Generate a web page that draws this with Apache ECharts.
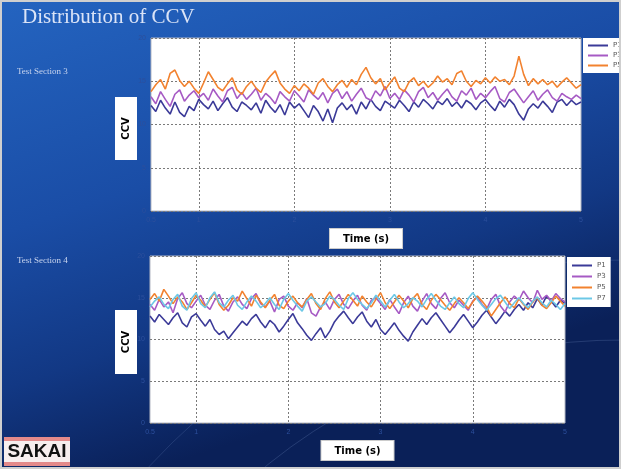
<!DOCTYPE html>
<html>
<head>
<meta charset="utf-8">
<script src="https://cdn.jsdelivr.net/npm/echarts@6/dist/echarts.min.js"></script>
<style>
html,body{margin:0;padding:0;background:#fff;}
#c{width:621px;height:469px;}
</style>
</head>
<body>
<div id="c"></div>
<script>
// ---- data ----
const times = ["0.50","0.55","0.60","0.65","0.70","0.75","0.80","0.85","0.90","0.95",
"1.00","1.05","1.10","1.15","1.20","1.25","1.30","1.35","1.40","1.45",
"1.50","1.55","1.60","1.65","1.70","1.75","1.80","1.85","1.90","1.95",
"2.00","2.05","2.10","2.15","2.20","2.25","2.30","2.35","2.40","2.45",
"2.50","2.55","2.60","2.65","2.70","2.75","2.80","2.85","2.90","2.95",
"3.00","3.05","3.10","3.15","3.20","3.25","3.30","3.35","3.40","3.45",
"3.50","3.55","3.60","3.65","3.70","3.75","3.80","3.85","3.90","3.95",
"4.00","4.05","4.10","4.15","4.20","4.25","4.30","4.35","4.40","4.45",
"4.50","4.55","4.60","4.65","4.70","4.75","4.80","4.85","4.90","4.95","5.00"];

const yTicks = [0, 5, 10, 15, 20];
const xTickTimes = ["0.50","1.00","2.00","3.00","4.00","5.00"];

// Test Section 3
const s3_P1 = [12.2,11.5,12.8,11.9,11.2,12.6,11.4,10.9,12.1,11.6,12.9,
12.3,11.8,12.7,11.6,12.4,13.1,12.0,11.5,12.6,12.2,
11.7,12.5,11.3,12.8,12.0,11.4,12.3,11.1,12.6,11.9,
12.4,11.6,10.8,12.2,11.5,10.4,11.8,10.2,11.9,12.5,
11.7,12.3,11.2,12.6,11.8,12.9,12.1,11.6,12.7,12.3,
11.9,12.8,12.2,11.5,12.6,12.0,12.9,12.4,11.8,12.7,
12.3,13.0,12.1,12.6,11.9,12.8,12.4,11.7,12.5,12.9,
12.2,11.6,12.7,12.0,12.9,12.3,11.2,10.5,11.8,12.4,
11.9,12.7,12.1,11.4,12.6,12.9,12.2,12.8,12.3,12.6];
const s3_P3 = [13.2,12.4,13.8,12.9,12.1,13.5,14.0,12.7,13.4,13.9,13.1,
13.6,12.8,14.1,13.3,12.6,13.9,14.3,13.0,13.7,12.9,
13.5,14.2,12.8,13.6,13.1,12.4,13.8,13.2,12.7,13.9,
13.3,12.6,14.0,13.4,12.9,13.7,12.5,13.6,14.1,13.0,
13.8,12.7,13.5,14.2,13.1,12.8,13.9,13.3,14.4,13.0,
13.6,12.9,14.0,13.4,12.6,13.8,14.3,13.1,13.7,12.8,
13.5,14.1,13.2,12.7,13.9,13.4,14.2,12.9,13.6,13.1,
13.8,14.4,13.0,12.6,13.7,14.1,13.3,12.5,13.2,13.9,
12.8,13.5,14.0,13.1,12.7,13.6,13.2,12.9,13.4,13.0];
const s3_P5 = [13.8,14.6,15.2,14.1,15.9,16.3,15.1,14.4,15.0,14.2,13.6,
14.8,16.1,15.2,14.3,13.9,14.7,15.4,14.0,13.5,14.4,
15.0,14.2,13.7,14.9,15.6,16.2,14.8,14.1,13.6,14.5,
13.9,14.7,14.2,13.5,14.8,15.3,14.4,13.8,14.6,15.1,
14.3,15.2,14.6,15.8,16.6,15.4,14.7,15.3,14.0,14.8,
15.5,14.2,13.8,14.9,15.4,14.5,15.0,14.3,14.8,15.6,
14.9,15.3,14.6,15.9,16.2,15.0,14.4,15.1,14.7,15.4,
14.8,15.5,15.0,15.2,14.6,15.6,17.9,15.8,14.5,15.3,
14.7,15.2,14.6,15.0,14.3,14.9,15.4,14.8,14.2,14.6];

// Test Section 4
const s4_P1 = [12.8,12.1,13.0,12.4,11.8,12.6,13.2,12.0,11.5,12.7,13.1,
12.3,11.6,12.4,11.2,10.6,11.0,10.1,10.8,11.5,12.2,
11.7,12.5,13.0,12.1,11.4,12.3,11.8,10.9,11.6,12.4,
13.1,12.0,11.3,10.5,9.9,10.7,11.4,10.2,11.0,12.1,
12.8,13.4,12.6,11.9,12.7,13.3,12.2,11.5,12.4,11.2,
10.6,11.3,12.0,11.1,10.4,9.8,10.9,11.7,12.5,11.8,
12.6,13.2,12.4,11.6,10.8,11.5,12.3,13.0,12.2,11.4,
12.1,12.9,13.5,12.7,11.9,12.6,13.4,12.8,13.6,14.2,
13.5,14.4,13.8,14.9,14.1,15.2,14.6,13.9,14.7,14.3];
const s4_P3 = [14.2,13.5,14.8,13.9,14.5,13.2,14.9,15.6,14.3,13.8,14.6,
15.3,14.1,13.6,14.7,15.4,14.0,13.4,14.5,15.1,14.2,
13.7,14.9,15.5,14.3,13.9,14.6,13.3,14.8,15.2,14.0,
13.5,14.4,13.8,14.9,13.2,12.8,13.9,14.5,13.6,14.8,
15.4,14.2,13.7,14.6,15.3,14.1,13.5,14.7,15.0,14.3,
13.6,14.8,13.9,13.1,14.4,15.2,14.0,13.4,14.6,15.5,
14.3,13.7,14.9,15.6,14.4,13.8,14.7,14.1,13.5,14.6,
15.1,14.2,13.6,14.8,15.4,14.0,13.3,14.5,15.2,14.7,
15.8,15.0,14.4,15.9,14.8,15.3,14.6,15.5,14.9,14.5];
const s4_P5 = [14.8,15.5,14.6,16.0,15.2,14.3,15.1,14.5,13.6,14.4,15.3,
14.7,13.9,14.8,15.6,14.2,13.5,14.1,15.0,14.6,15.8,
14.9,14.0,15.3,14.5,13.8,14.7,15.4,14.1,13.7,14.6,
15.2,14.4,13.9,14.8,15.5,14.3,13.6,14.9,15.7,14.5,
13.8,14.6,15.4,14.7,14.0,15.2,14.5,13.9,14.8,15.6,
14.4,13.7,14.5,15.3,14.6,13.8,14.9,15.5,14.2,13.6,
14.7,15.4,14.8,14.1,13.5,14.3,15.0,14.4,13.7,14.5,
15.2,14.6,13.9,12.8,13.6,14.4,15.1,14.3,13.8,14.9,
14.2,13.6,14.5,15.0,14.1,13.7,14.4,15.2,14.6,14.0];
const s4_P7 = [13.9,14.6,15.1,14.2,13.7,14.8,15.4,14.0,13.5,14.9,15.6,
14.3,13.8,15.0,15.7,14.4,13.9,14.7,15.3,14.1,13.6,
14.5,15.2,14.6,13.8,14.3,15.0,14.2,13.6,14.8,15.5,
14.7,14.0,13.4,14.6,15.1,14.5,13.9,14.3,15.2,14.8,
14.1,13.6,14.9,15.6,14.8,14.2,13.7,14.4,15.3,14.6,
13.9,14.7,15.4,14.5,13.8,14.3,15.0,14.6,13.9,14.8,
15.5,14.7,14.0,13.6,14.4,15.1,14.3,13.8,14.9,15.6,
14.8,14.1,13.5,14.2,14.9,15.3,14.5,13.7,14.4,15.0,
14.3,13.8,14.6,15.1,14.4,13.9,14.7,14.2,13.6,14.3];

const legend3 = ["P1","P3","P5"];
const legend4 = ["P1","P3","P5","P7"];

// ---- styles ----
const colors = {P1:"#3b3a98", P3:"#a65ac4", P5:"#f2822f", P7:"#6cc8e6"};
const tickLabelColor = "#2c4f9c";

function xAxisCfg(gridIndex){
  return {
    type:"category", gridIndex, data:times, boundaryGap:false,
    axisLine:{show:false}, axisTick:{show:false},
    axisLabel:{
      color:tickLabelColor, fontSize:7, margin:6,
      interval:(i,v)=>xTickTimes.indexOf(v)>=0,
      formatter:v=>String(parseFloat(v))
    },
    splitLine:{show:true, interval:(i,v)=>xTickTimes.indexOf(v)>0 && xTickTimes.indexOf(v)<xTickTimes.length-1,
      lineStyle:{color:"#7a7a7a", type:[2,2], width:1}},
    name:"Time (s)", nameLocation:"middle", nameGap:18,
    nameTextStyle:{color:"#000", fontFamily:"DejaVu Sans", fontWeight:"bold", fontSize:10,
      backgroundColor:"#fff", padding:[5,13,4,13], borderColor:"#ccc", borderWidth:1}
  };
}
function yAxisCfg(gridIndex){
  return {
    type:"value", gridIndex, min:yTicks[0], max:yTicks[yTicks.length-1], interval:5,
    axisLine:{show:false}, axisTick:{show:false},
    axisLabel:{color:tickLabelColor, fontSize:7, margin:5},
    splitLine:{show:true, lineStyle:{color:"#7a7a7a", type:[2,2], width:1}}
  };
}
function line(name, data, xi){
  return {name, type:"line", xAxisIndex:xi, yAxisIndex:xi, data, showSymbol:false,
    lineStyle:{width:1.6, color:colors[name]}, itemStyle:{color:colors[name]}, animation:false, z:3};
}
function ccvBox(top, h){
  return {type:"group", left:115, top, children:[
    {type:"rect", shape:{x:0, y:0, width:22, height:h}, style:{fill:"#fff"}},
    {type:"text", x:11, y:h/2, rotation:Math.PI/2,
      style:{text:"CCV", fill:"#000", font:"bold 10px 'DejaVu Sans'", align:"center", verticalAlign:"middle"}}
  ]};
}

const chart = echarts.init(document.getElementById("c"), null, {renderer:"canvas"});
chart.setOption({
  backgroundColor:{type:"linear", x:0, y:0, x2:0.25, y2:1, colorStops:[
    {offset:0, color:"#2464c0"},{offset:0.45, color:"#1a4da6"},{offset:0.75, color:"#123884"},{offset:1, color:"#0a2058"}]},
  animation:false,
  grid:[
    {left:151, top:38, width:430, height:173, show:true, backgroundColor:"#fff", borderColor:"#b4b8c4", borderWidth:1},
    {left:150, top:256, width:415, height:167, show:true, backgroundColor:"#fff", borderColor:"#b4b8c4", borderWidth:1}
  ],
  xAxis:[xAxisCfg(0), xAxisCfg(1)],
  yAxis:[yAxisCfg(0), yAxisCfg(1)],
  legend:[
    {data:legend3, left:583, top:38, orient:"vertical", backgroundColor:"#fff", padding:[4,4,4,5],
      itemGap:3, itemWidth:20, itemHeight:2, icon:"rect",
      textStyle:{fontSize:7, color:"#555", fontFamily:"DejaVu Sans"}},
    {data:legend4, left:567, top:257, orient:"vertical", backgroundColor:"#fff", padding:[5,5,5,5],
      itemGap:4, itemWidth:20, itemHeight:2, icon:"rect",
      textStyle:{fontSize:7, color:"#555", fontFamily:"DejaVu Sans"}}
  ],
  series:[
    line("P1", s3_P1, 0), line("P3", s3_P3, 0), line("P5", s3_P5, 0),
    line("P1", s4_P1, 1), line("P3", s4_P3, 1), line("P5", s4_P5, 1), line("P7", s4_P7, 1)
  ],
  graphic:[
    {type:"arc", shape:{cx:620, cy:900, r:560, startAngle:Math.PI*1.05, endAngle:Math.PI*1.6}, style:{stroke:"rgba(160,190,240,0.18)", fill:null, lineWidth:1}, z:-1, silent:true},
    {type:"arc", shape:{cx:620, cy:900, r:640, startAngle:Math.PI*1.05, endAngle:Math.PI*1.6}, style:{stroke:"rgba(160,190,240,0.14)", fill:null, lineWidth:1}, z:-1, silent:true},
    {type:"text", left:22, top:7, style:{text:"Distribution of CCV", fill:"#dbe4f7", font:"21px 'Liberation Serif'"}},
    {type:"text", left:17, top:67, style:{text:"Test Section 3", fill:"#c9d5ef", font:"9px 'Liberation Serif'"}},
    {type:"text", left:17, top:256, style:{text:"Test Section 4", fill:"#c9d5ef", font:"9px 'Liberation Serif'"}},
    ccvBox(97, 63),
    ccvBox(310, 64),
    {type:"group", left:4, top:437, children:[
      {type:"rect", shape:{x:0, y:0, width:66, height:29}, style:{fill:"#e48a8a"}},
      {type:"rect", shape:{x:0, y:4, width:66, height:21}, style:{fill:"#f7eeee"}},
      {type:"text", x:33, y:15, style:{text:"SAKAI", fill:"#111", font:"bold 19px 'Liberation Sans'", align:"center", verticalAlign:"middle"}}
    ]},
    {type:"rect", shape:{x:0.5, y:0.5, width:620, height:468}, style:{fill:null, stroke:"#cfcfcf", lineWidth:3}, z:100, silent:true}
  ]
});
</script>
</body>
</html>
